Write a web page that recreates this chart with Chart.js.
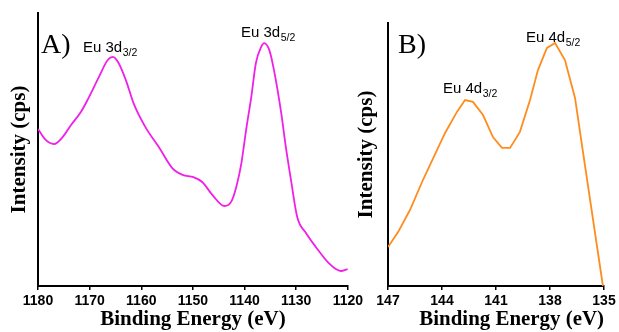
<!DOCTYPE html>
<html><head><meta charset="utf-8">
<script src="https://cdn.jsdelivr.net/npm/chart.js@4"></script>
<style>
html,body{margin:0;padding:0;background:#fff;width:619px;height:332px;overflow:hidden;position:relative;}
canvas{position:absolute;top:0;}
#c1{left:0;} #c2{left:345px;}
</style></head><body>
<canvas id="c1" width="366" height="332"></canvas>
<canvas id="c2" width="274" height="332"></canvas>
<script>
// ---- Data: panel A (Eu 3d) ----
const energyA = [1180.0,1178.5,1176.9,1175.2,1173.6,1171.7,1170.2,1168.2,1166.5,1165.5,1164.4,1163.0,1161.5,1159.2,1156.6,1154.0,1152.0,1149.9,1148.2,1146.2,1143.9,1142.6,1141.6,1140.6,1139.7,1138.7,1137.8,1136.8,1136.2,1135.2,1134.3,1132.9,1132.0,1131.0,1129.8,1128.1,1126.2,1123.7,1121.4,1120.0];
const intensityA = [57.5,53.5,52.0,54.6,59.0,63.7,68.9,76.6,82.8,83.9,81.7,75.5,67.0,58.2,50.9,43.2,40.7,39.9,38.1,33.3,29.3,30.8,36.3,45.1,57.1,69.2,81.7,87.5,89.0,86.4,79.1,63.4,50.9,38.8,25.3,19.4,14.3,8.4,5.5,6.2];
// ---- Data: panel B (Eu 4d) ----
const energyB = [147.0,146.44,145.78,145.06,144.67,143.83,143.17,142.72,142.28,141.72,141.17,140.67,140.22,139.67,139.11,138.67,138.17,137.72,137.17,136.61,136.06,135.06];
const intensityB = [14.8,20.5,28.9,40.3,46.0,58.2,66.2,70.7,70.0,65.0,56.6,52.5,52.5,58.6,70.7,82.1,90.5,92.4,85.9,71.5,46.0,0];
// ---- Tick labels ----
const ticksA = [1180,1170,1160,1150,1140,1130,1120];
const ticksB = [147,144,141,138,135];
// ---- Text ----
const panelA = 'A)', panelB = 'B)';
const peaksA = [['Eu 3d','3/2'],['Eu 3d','5/2']];
const peaksB = [['Eu 4d','3/2'],['Eu 4d','5/2']];
const xTitle = 'Binding Energy (eV)';
const yTitle = 'Intensity (cps)';

const annotate = {
  id:'annotate',
  afterDraw(chart, args, opts) {
    const ctx = chart.ctx;
    ctx.save();
    ctx.fillStyle = '#000';
    ctx.textBaseline = 'alphabetic';
    ctx.textAlign = 'left';
    for (const a of opts.items) {
      ctx.font = a.font;
      ctx.fillText(a.text, a.x, a.y);
      if (a.sub) {
        const w = ctx.measureText(a.text).width;
        ctx.font = a.subFont;
        ctx.fillText(a.sub, a.x + w + 0.5, a.y + a.subDy);
      }
    }
    ctx.restore();
  }
};

const serif = "'Liberation Serif','Times New Roman',serif";
const sans = "'Liberation Sans',Arial,sans-serif";
const panelFont = "28px " + serif;
const peakFont = "15px " + sans;
const subFont = "10.5px " + sans;

function makeChart(id, xs, ys, color, smooth, ticks, xmin, xmax, yAxisW, pad, titleText, yTitlePad, items) {
  const ds = { data: xs.map((x,i)=>({x:x,y:ys[i]})), borderColor: color, borderWidth: 1.8, pointRadius: 0, fill:false };
  if (smooth) { ds.cubicInterpolationMode = 'monotone'; } else { ds.tension = 0; }
  return new Chart(document.getElementById(id), {
    type: 'line',
    data: { datasets: [ds] },
    plugins: [annotate],
    options: {
      responsive: false, animation: false, devicePixelRatio: 1,
      layout: { padding: pad },
      plugins: { legend:{display:false}, tooltip:{enabled:false}, annotate:{items:items} },
      scales: {
        x: {
          type:'linear', reverse:true, min:xmin, max:xmax,
          afterBuildTicks: s => { s.ticks = ticks.map(v=>({value:v})); },
          afterFit: s => { s.height = 46; },
          grid: { display:true, drawOnChartArea:false, drawTicks:true, tickLength:4, color:'#000', lineWidth:1.5 },
          border: { display:true, color:'#000', width:2 },
          ticks: { color:'#000', font:{family:sans, size:14, weight:'bold'}, padding:3, maxRotation:0, autoSkip:false, callback: v => String(v) },
          title: { display:true, text:titleText, color:'#000', font:{family:serif, size:21, weight:'bold'}, padding:0 }
        },
        y: {
          min:0, max:100,
          afterFit: s => { s.width = yAxisW; },
          ticks: { display:false },
          grid: { display:true, drawOnChartArea:false, drawTicks:false, color:'#000' },
          border: { display:true, color:'#000', width:2 },
          title: { display:true, text:yTitle, color:'#000', font:{family:serif, size:21, weight:'bold'}, padding:{top:yTitlePad, bottom:0} }
        }
      }
    }
  });
}

makeChart('c1', energyA, intensityA, '#f020e8', true, ticksA, 1120, 1180, 38, {top:13, right:17, left:0, bottom:0}, xTitle, 7, [
  {text:panelA, x:41, y:53, font:panelFont},
  {text:peaksA[0][0], sub:peaksA[0][1], x:83, y:52, font:peakFont, subFont:subFont, subDy:4},
  {text:peaksA[1][0], sub:peaksA[1][1], x:241, y:37, font:peakFont, subFont:subFont, subDy:4}
]);
makeChart('c2', energyB, intensityB, '#ff8c1e', false, ticksB, 135, 147, 43, {top:23, right:15, left:0, bottom:0}, '      ' + xTitle, 9, [
  {text:panelB, x:53, y:53, font:panelFont},
  {text:peaksB[0][0], sub:peaksB[0][1], x:98, y:93, font:peakFont, subFont:subFont, subDy:3.5},
  {text:peaksB[1][0], sub:peaksB[1][1], x:181, y:42, font:peakFont, subFont:subFont, subDy:3.5}
]);
</script>
</body></html>
